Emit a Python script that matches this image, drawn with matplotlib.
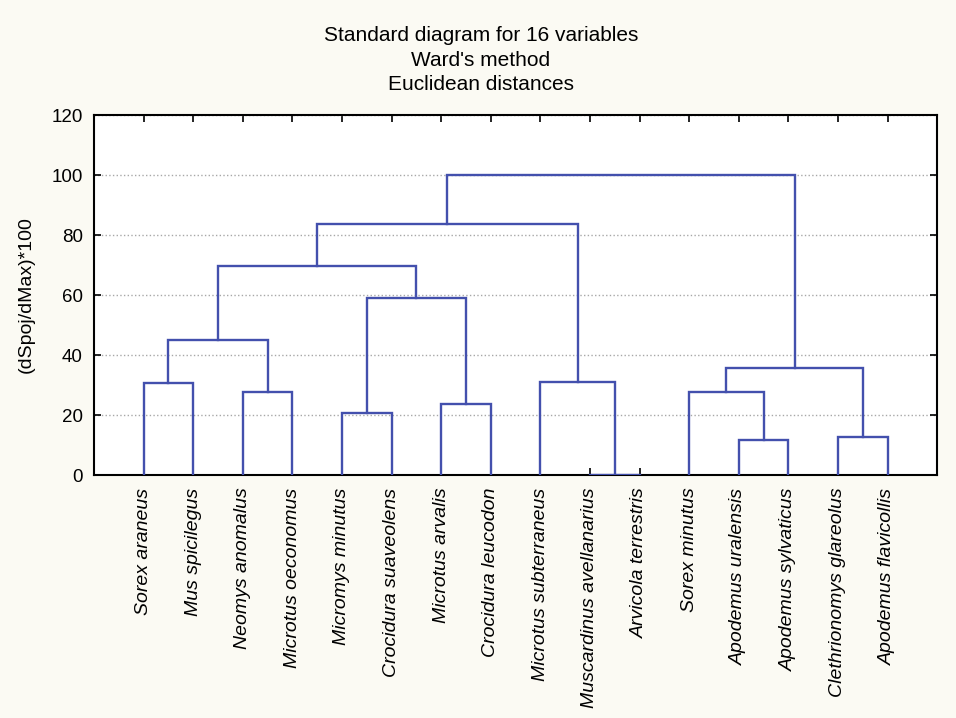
import matplotlib.pyplot as plt

plt.rcParams['font.family'] = ['Liberation Sans', 'DejaVu Sans']

species = [
    "Sorex araneus", "Mus spicilegus", "Neomys anomalus", "Microtus oeconomus",
    "Micromys minutus", "Crocidura suaveolens", "Microtus arvalis", "Crocidura leucodon",
    "Microtus subterraneus", "Muscardinus avellanarius", "Arvicola terrestris",
    "Sorex minutus", "Apodemus uralensis", "Apodemus sylvaticus",
    "Clethrionomys glareolus", "Apodemus flavicollis",
]

# merge steps: node ids 0-15 are leaves, each merge creates node 16, 17, ...
merge_left = [0, 2, 4, 6, 9, 12, 14, 16, 18, 8, 11, 26, 23, 28, 29]
merge_right = [1, 3, 5, 7, 10, 13, 15, 17, 19, 20, 21, 22, 24, 25, 27]
merge_height = [30.8, 27.6, 20.8, 23.7, 0.0, 11.7, 12.8, 45.0, 58.9, 30.9,
                27.6, 35.6, 69.7, 83.7, 100.0]

line_col = "#4350ad"
bg = "#fbfaf3"

fig = plt.figure(figsize=(9.56, 7.18), dpi=100, facecolor=bg)
ax = fig.add_axes([0.0983, 0.3384, 0.882, 0.5014])
ax.set_facecolor("white")

xpos = {i: float(i + 1) for i in range(len(species))}
hpos = {i: 0.0 for i in range(len(species))}
for k, (a, b, h) in enumerate(zip(merge_left, merge_right, merge_height)):
    node = len(species) + k
    xa, xb = xpos[a], xpos[b]
    ax.plot([xa, xa, xb, xb], [hpos[a], h, h, hpos[b]], color=line_col, lw=1.7,
            solid_joinstyle="miter", zorder=3)
    xpos[node] = (xa + xb) / 2
    hpos[node] = h

ax.set_xlim(0, 17)
ax.set_ylim(0, 120)
ax.set_yticks(range(0, 121, 20))
ax.set_xticks(range(1, len(species) + 1))
ax.set_xticklabels(species, rotation=90, fontsize=14, style="italic")
ax.tick_params(axis="x", direction="in", length=5, top=True, pad=9, width=1.2)
ax.tick_params(axis="y", direction="in", length=5, right=True, labelsize=13.5, pad=8, width=1.2)
for t in ax.get_xticklabels():
    t.set_va("top")

ax.grid(axis="y", linestyle=":", color="#a8a8a8", lw=1.0, zorder=0)
for s in ax.spines.values():
    s.set_linewidth(1.5)

ax.set_ylabel("(dSpoj/dMax)*100", fontsize=14, labelpad=12)

fig.text(0.503, 0.964, "Standard diagram for 16 variables\nWard's method\nEuclidean distances",
         ha="center", va="top", fontsize=15, linespacing=1.38)

fig.savefig("out.png", dpi=100, facecolor=bg)
